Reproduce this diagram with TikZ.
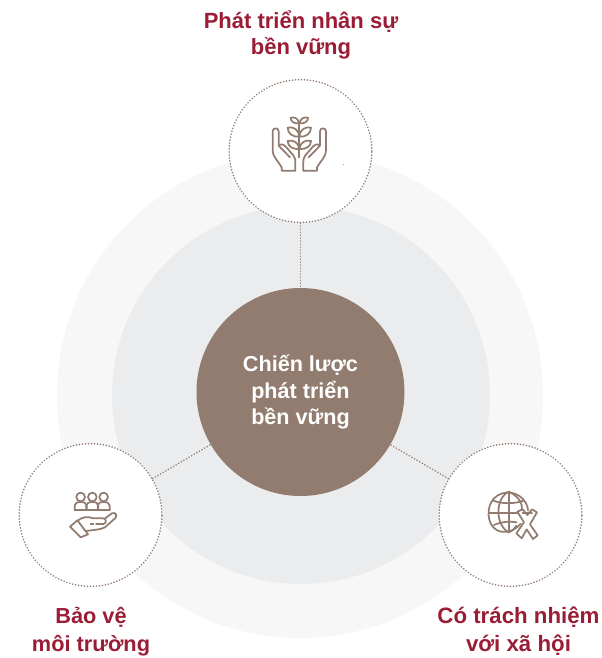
\documentclass[tikz,border=0pt]{standalone}
\usepackage{fontspec}
\setmainfont{Liberation Sans}
\definecolor{brn}{HTML}{917C6F}
\definecolor{ttl}{HTML}{9A1C35}
\definecolor{ring}{HTML}{F7F7F7}
\definecolor{ring2}{HTML}{EBECEE}
\tikzset{
  x=0.75pt,y=-0.75pt,
  sat/.style={circle,draw=brn,line width=1.2pt,line cap=round,dash pattern=on 0.15pt off 2.1pt,fill=white,minimum size=107pt,inner sep=0pt},
  link/.style={draw=brn,line width=1.2pt,line cap=round,dash pattern=on 0.15pt off 2.1pt},
  ttlt/.style={text=ttl,font=\bfseries\fontsize{16.5}{20}\selectfont,align=center},
  ttll/.style={text=ttl,font=\bfseries\fontsize{16.3}{21}\selectfont,align=center},
  ttlr/.style={text=ttl,font=\bfseries\fontsize{16.7}{21}\selectfont,align=center},
  icon/.style={draw=brn,line width=1.3pt,line join=round,line cap=round},
}
\begin{document}
\begin{tikzpicture}
\useasboundingbox (0,0) rectangle (601,658);
\node[circle,fill=ring,minimum size=364.5pt,inner sep=0pt] (outer) at (300,395) {};
\node[circle,fill=ring2,minimum size=283.5pt,inner sep=0pt] (inner) at (301,395) {};
\node[sat] (top) at (300.5,151) {};
\node[sat] (left) at (90.5,515) {};
\node[sat] (right) at (510.5,515) {};
\node[circle,fill=brn,minimum size=156pt,inner sep=0pt,text=white,align=center,font=\bfseries\fontsize{16.2}{20}\selectfont] (mid) at (300.5,392) {Chiến lược\\phát triển\\bền vững};
\path[link] (top) -- (mid);
\path[link] (left) -- (mid);
\path[link] (right) -- (mid);
\node[ttlt] (t1) at (301,35) {Phát triển nhân sự\\bền vững};
\node[ttll] (t2) at (91,632) {Bảo vệ\\môi trường};
\node[ttlr] (t3) at (518.5,631.5) {Có trách nhiệm\\với xã hội};
% plant icon
\begin{scope}[shift={(230,80)},x=0.25pt,y=-0.25pt]
 \draw[icon] (208,125) -- (208,232);
 \foreach \s/\ox in {1/0,-1/416}{
  \begin{scope}[shift={(\ox,0)},x=\s*0.25pt]
  \draw[icon] (208,130) .. controls (203,114) and (195,111) .. (182,113) .. controls (182,124) and (192,132) .. (208,130);
  \draw[icon] (208,170) .. controls (206,148) and (190,139) .. (173,143) .. controls (173,160) and (188,172) .. (208,170);
  \draw[icon] (208,207) .. controls (206,188) and (190,178) .. (173,183) .. controls (173,199) and (188,209) .. (208,207);
  \draw[icon] (196,272) -- (155,272) -- (155,262) .. controls (140,238) and (128,228) .. (128,212) -- (128,154) .. controls (128,142) and (146,142) .. (146,154) -- (146,197) -- (180,232);
  \draw[icon] (147,196) .. controls (155,190) and (162,194) .. (170,203) -- (190,226) .. controls (196,234) and (196,240) .. (196,246) -- (196,272);
  \end{scope}}
\end{scope}
% people on hand
\begin{scope}[shift={(50,475)},x=0.25pt,y=-0.25pt]
 \foreach \c in {92,127,161}{
  \draw[icon] (\c,66) circle[radius=13];
  \draw[icon] (\c-18,105) -- (\c-18,92) .. controls (\c-18,84) and (\c-10,81) .. (\c,81) .. controls (\c+10,81) and (\c+18,84) .. (\c+18,92) -- (\c+18,105);
 }
 \draw[icon] (74,105) -- (179,105);
 \draw[icon] (60,155) -- (82,136) -- (114,178) -- (92,187) -- cycle;
 \draw[icon] (82,138) .. controls (95,125) and (115,124) .. (130,130) -- (160,130) .. controls (170,130) and (170,147) .. (160,147) -- (138,147);
 \draw[icon] (165,130) -- (186,115) .. controls (196,110) and (204,122) .. (195,130) -- (165,157) .. controls (150,165) and (125,165) .. (108,168);
 \draw[icon] (122,146) -- (130,146);
\end{scope}
% globe and ribbon
\begin{scope}[shift={(470,475)},x=0.25pt,y=-0.25pt]
 \draw[icon] (152,146) .. controls (135,168) and (103,178) .. (80,165) .. controls (50,148) and (48,95) .. (72,70) .. controls (100,42) and (148,48) .. (168,85) .. controls (172,92) and (174,100) .. (174,106);
 \draw[icon] (116,50) -- (116,172);
 \draw[icon] (116,50) .. controls (75,70) and (75,150) .. (116,172);
 \draw[icon] (116,50) .. controls (150,65) and (158,90) .. (156,106);
 \draw[icon] (116,172) .. controls (128,168) and (134,160) .. (139,152);
 \draw[icon] (70,77) .. controls (95,87) and (135,87) .. (160,77);
 \draw[icon] (57,113) -- (142,113);
 \draw[icon] (72,150) .. controls (95,140) and (115,138) .. (140,142);
 \draw[icon] (142,110) -- (158,103) -- (172,120) -- (186,103) -- (201,112) -- (180,148) -- (203,181) -- (189,192) -- (170,163) -- (155,190) -- (139,175) -- (162,142) -- cycle;
 \draw[icon] (158,114) -- (186,114);
\end{scope}
\fill[brn!70] (343.5,164.5) circle[radius=0.7];
\end{tikzpicture}
\end{document}
